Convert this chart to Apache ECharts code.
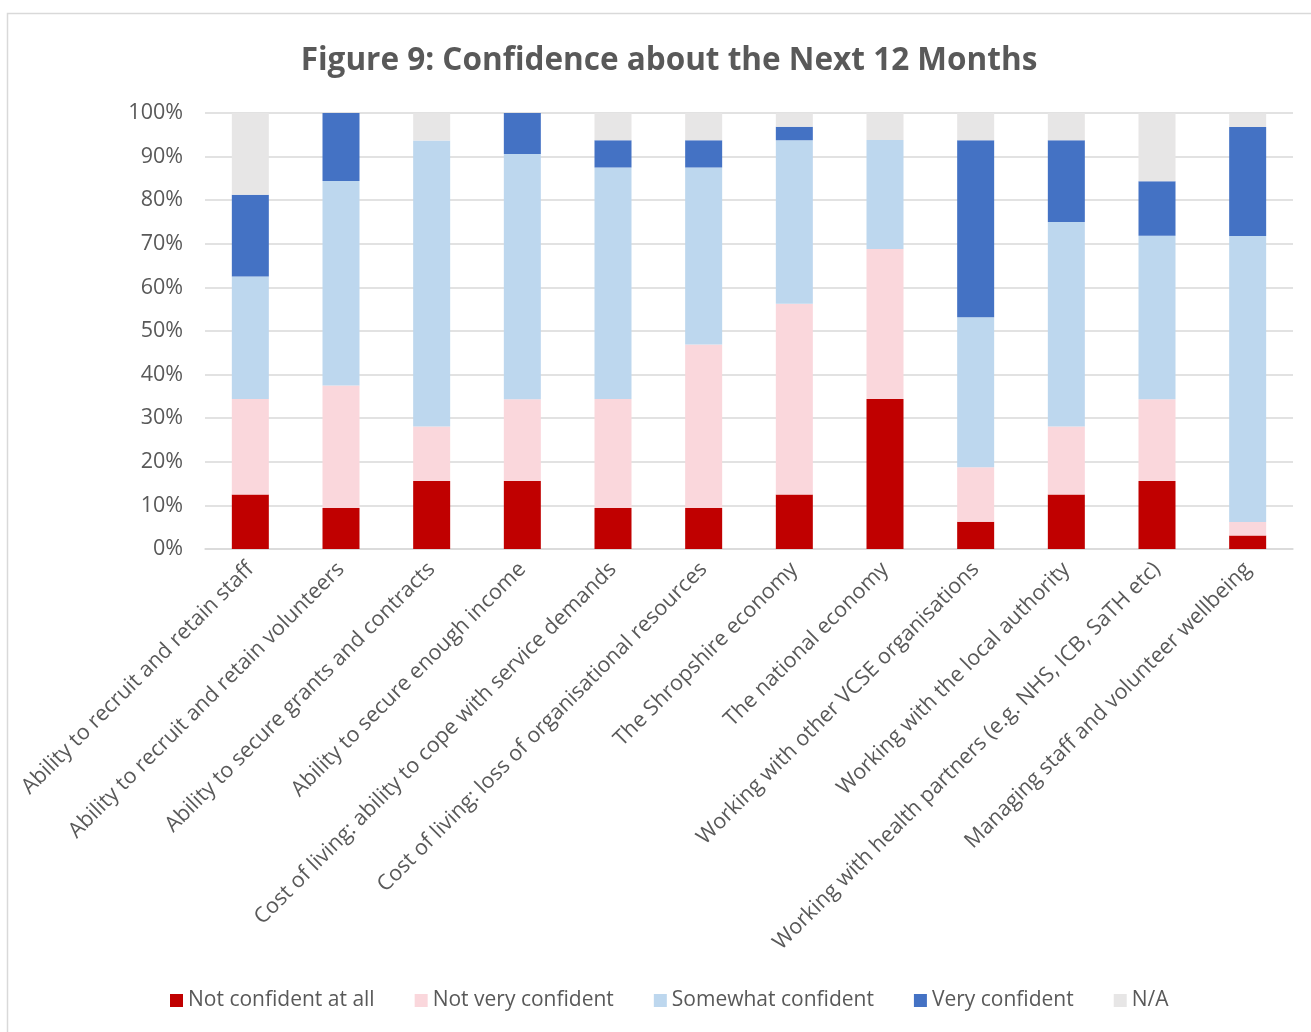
<!DOCTYPE html>
<html>
<head>
<meta charset="utf-8">
<title>Figure 9: Confidence about the Next 12 Months</title>
<script src="https://cdn.jsdelivr.net/npm/echarts@6/dist/echarts.min.js"></script>
<style>
  html, body { margin: 0; padding: 0; background: #ffffff; }
  #chart { width: 1311px; height: 1032px; }
</style>
</head>
<body>
<div id="chart"></div>
<script>
// Survey categories (x axis)
const categories = [
  'Ability to recruit and retain staff',
  'Ability to recruit and retain volunteers',
  'Ability to secure grants and contracts',
  'Ability to secure enough income',
  'Cost of living: ability to cope with service demands',
  'Cost of living: loss of organisational resources',
  'The Shropshire economy',
  'The national economy',
  'Working with other VCSE organisations',
  'Working with the local authority',
  'Working with health partners (e.g. NHS, ICB, SaTH etc)',
  'Managing staff and volunteer wellbeing'
];

// Share of respondents (%) per answer
const notConfidentAtAll  = [12.5, 9.4, 15.6, 15.6, 9.4, 9.4, 12.5, 34.4, 6.25, 12.5, 15.6, 3.1];
const notVeryConfident   = [21.9, 28.1, 12.5, 18.75, 25, 37.5, 43.75, 34.4, 12.5, 15.6, 18.75, 3.1];
const somewhatConfident  = [28.1, 46.9, 65.6, 56.25, 53.1, 40.6, 37.5, 25, 34.4, 46.9, 37.5, 65.6];
const veryConfident      = [18.75, 15.6, 0, 9.4, 6.25, 6.25, 3.1, 0, 40.6, 18.75, 12.5, 25];
const notApplicable      = [18.75, 0, 6.25, 0, 6.25, 6.25, 3.1, 6.25, 6.25, 6.25, 15.6, 3.1];

const yTicks = [0, 10, 20, 30, 40, 50, 60, 70, 80, 90, 100];

const seriesDefs = [
  { name: 'Not confident at all', data: notConfidentAtAll, color: '#C00000' },
  { name: 'Not very confident',   data: notVeryConfident,  color: '#FAD7DC' },
  { name: 'Somewhat confident',   data: somewhatConfident, color: '#BDD7EE' },
  { name: 'Very confident',       data: veryConfident,     color: '#4472C4' },
  { name: 'N/A',                  data: notApplicable,     color: '#E7E6E6' }
];

const FONT = '"Open Sans", Lato, sans-serif';
const TEXT = '#595959';

const chart = echarts.init(document.getElementById('chart'), null, { renderer: 'canvas' });

chart.setOption({
  backgroundColor: '#ffffff',
  animation: false,
  graphic: [{
    type: 'rect',
    shape: { x: 7.5, y: 13.5, width: 1340, height: 1060 },
    style: { fill: 'none', stroke: '#d9d9d9', lineWidth: 1.5 },
    silent: true
  }],
  title: {
    text: 'Figure 9: Confidence about the Next 12 Months',
    left: 664,
    textAlign: 'center',
    top: 40,
    textStyle: { fontFamily: FONT, fontSize: 31.5, fontWeight: 'bold', color: TEXT }
  },
  legend: {
    bottom: 16,
    left: 165,
    itemWidth: 13,
    itemHeight: 13,
    itemGap: 40,
    icon: 'rect',
    textStyle: { fontFamily: FONT, fontSize: 21, color: TEXT },
    data: seriesDefs.map(s => s.name)
  },
  grid: { left: 205, right: 18, top: 113, bottom: 483, containLabel: false },
  xAxis: {
    type: 'category',
    data: categories,
    axisLine: { show: true, lineStyle: { color: '#d9d9d9', width: 1.5 } },
    axisTick: { show: false },
    axisLabel: {
      rotate: 45,
      interval: 0,
      margin: 17,
      fontFamily: FONT,
      fontSize: 21.5,
      color: TEXT
    }
  },
  yAxis: {
    type: 'value',
    min: 0,
    max: 100,
    interval: 10,
    axisLine: { show: false },
    axisTick: { show: false },
    splitLine: { lineStyle: { color: '#d9d9d9', width: 1.5 } },
    axisLabel: {
      margin: 22,
      fontFamily: FONT,
      fontSize: 21.5,
      color: TEXT,
      formatter: v => (yTicks.indexOf(v) >= 0 ? v + '%' : '')
    }
  },
  series: seriesDefs.map(s => ({
    name: s.name,
    type: 'bar',
    stack: 'total',
    barWidth: 37,
    data: s.data,
    itemStyle: { color: s.color },
    emphasis: { disabled: true }
  }))
});
</script>
</body>
</html>
